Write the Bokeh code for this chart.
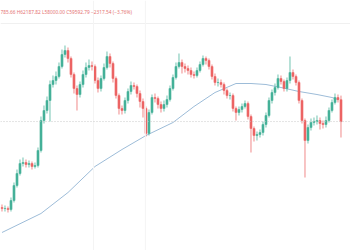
from bokeh.plotting import figure
from bokeh.models import ColumnDataSource, Range1d, Span, Label
from bokeh.embed import file_html
from bokeh.resources import INLINE
import numpy as np

# ---- data ----
first_open = 51000
closes = [50900, 50900, 50800, 51700, 53200, 54400, 55400, 55500, 55300, 55400,
          55100, 55200, 56700, 59700, 60700, 61700, 63300, 63700, 64100, 65100,
          66300, 66700, 65900, 64300, 62900, 62300, 63300, 64300, 65000, 65200,
          65100, 63700, 62900, 63900, 65000, 66100, 65400, 63900, 62200, 60900,
          60700, 61700, 62600, 63200, 63100, 62400, 61600, 60900, 58400, 60500,
          62000, 61900, 61300, 60900, 61300, 61800, 62900, 64000, 65100, 65500,
          65100, 64900, 64700, 64300, 64200, 64700, 65300, 65900, 65700, 65100,
          64100, 63500, 63500, 63300, 62700, 62200, 62200, 60900, 60500, 60800,
          61100, 61400, 60100, 58900, 58200, 58300, 58500, 59300, 60200, 61700,
          62500, 63000, 63900, 63600, 62900, 63700, 64500, 64100, 63500, 61700,
          59700, 57700, 59000, 59500, 59600, 59700, 59400, 59300, 59700, 60700,
          61500, 62000, 61785.66, 59592.79]
highs = [51300, 51200, 51100, 52000, 53500, 54800, 55800, 56000, 55800, 55700,
         55600, 55500, 57000, 60100, 61200, 62100, 63700, 64200, 64600, 65500,
         66800, 67200, 67000, 66100, 64500, 63200, 63600, 64700, 65500, 65800,
         65600, 65300, 64000, 64200, 65400, 66600, 66400, 65600, 64100, 62400,
         61200, 62000, 62900, 63600, 63500, 63300, 62700, 61900, 61100, 60800,
         62300, 62400, 62100, 61600, 61700, 62200, 63200, 64300, 65500, 66400,
         65800, 65400, 65200, 65000, 64600, 65000, 65600, 66200, 66100, 65900,
         65300, 64400, 63900, 63800, 63500, 62900, 62500, 62400, 61100, 61100,
         61400, 61700, 61600, 60300, 59100, 58600, 58800, 59600, 60500, 62000,
         62800, 63400, 64300, 64200, 63800, 64000, 66100, 64800, 64300, 63700,
         61900, 59900, 59300, 59900, 60000, 60200, 60000, 59700, 60100, 61000,
         61800, 62400, 62300, 62187.82]
lows = [50600, 50600, 50500, 50600, 51500, 53000, 54200, 55100, 55000, 55000,
        54800, 54900, 55000, 56500, 59400, 60400, 59600, 63000, 63300, 63900,
        64900, 66000, 65500, 64000, 62400, 60700, 62000, 63000, 64000, 64700,
        64700, 63400, 62500, 62600, 63700, 64800, 65000, 63500, 61900, 60300,
        60300, 60400, 61400, 62300, 62800, 62000, 61000, 60000, 58100, 58200,
        60300, 61500, 60900, 60500, 60600, 61000, 61600, 62700, 63800, 64900,
        64400, 64500, 64300, 64000, 63900, 64000, 64500, 65100, 65300, 64800,
        63800, 63200, 63100, 63000, 62300, 61900, 61800, 60600, 59700, 60200,
        60500, 60900, 59800, 56500, 57600, 57700, 58000, 58200, 59000, 60000,
        61400, 62200, 62800, 63300, 62600, 62600, 63400, 63800, 63200, 61400,
        59400, 54000, 57400, 58700, 59200, 59300, 58800, 58900, 59000, 59500,
        60500, 61300, 61500, 58000.00]
opens = [first_open] + closes[:-1]

# long moving average (sparse points)
ma_idx = [0, 13, 22, 31, 40, 48, 57, 64, 71, 78, 83, 88, 93, 99, 105, 110, 112]
ma_val = [48500, 50400, 52500, 55100, 56800, 58200, 59500, 61100, 62500, 63400,
          63400, 63300, 63000, 62600, 62300, 62000, 61800]

last_close = 59592.79
header = "785.66  H62187.82  L58000.00  C59592.79  \u22122317.54 (\u22123.76%)"

GREEN = "#45b199"
RED = "#ec6464"

idx = np.arange(len(closes))
o = np.array(opens, dtype=float)
c = np.array(closes, dtype=float)
colors = [GREEN if cc >= oo else RED for oo, cc in zip(o, c)]
src = ColumnDataSource(dict(
    x=idx, top=np.maximum(o, c), bottom=np.minimum(o, c),
    high=highs, low=lows, color=colors))

p = figure(width=350, height=250, output_backend="svg", toolbar_location=None,
           x_range=Range1d(-0.5, 116.17), y_range=Range1d(46700, 71700),
           min_border=0, min_border_left=0, min_border_right=0,
           min_border_top=0, min_border_bottom=0)
p.xaxis.visible = False
p.yaxis.visible = False
p.xgrid.visible = False
p.ygrid.visible = False
p.outline_line_color = None
p.background_fill_color = "white"
p.border_fill_color = "white"

# faint grid lines
for yv in [69400]:
    p.add_layout(Span(location=yv, dimension="width", line_color="#f0f0f0", line_width=1))
for xv in [30.5, 47.8]:
    p.add_layout(Span(location=xv, dimension="height", line_color="#f4f4f4", line_width=1))

# last price dotted line
p.add_layout(Span(location=last_close, dimension="width", line_color="#c8c8c8",
                  line_width=1, line_dash="1 2"))

p.line(ma_idx, ma_val, line_color="#9dbcd8", line_width=1)

p.segment(x0="x", y0="low", x1="x", y1="high", source=src, line_color="color",
          line_width=0.9, line_alpha=0.85)
p.vbar(x="x", top="top", bottom="bottom", width=0.7, source=src,
       fill_color="color", line_color="color", line_width=0.5)

p.add_layout(Label(x=0, y=239, x_units="screen", y_units="screen", text=header,
                   text_font="Noto Sans", text_font_size="4.8px", text_color="#e57373",
                   text_baseline="middle"))

open("out.html", "w").write(file_html(p, INLINE))
